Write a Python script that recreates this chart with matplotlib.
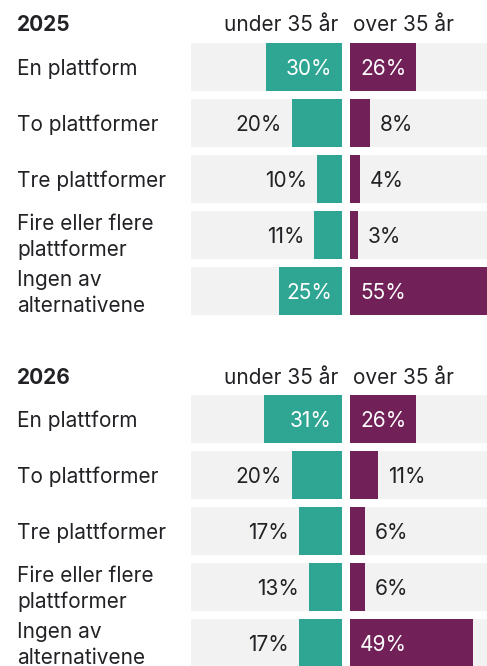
import matplotlib.pyplot as plt
from matplotlib.transforms import blended_transform_factory

# ── Data ──────────────────────────────────────────────────────────────────────
years = ["2025", "2026"]
categories = [
    "En plattform",
    "To plattformer",
    "Tre plattformer",
    "Fire eller flere\nplattformer",
    "Ingen av\nalternativene",
]
under_35 = {"2025": [30, 20, 10, 11, 25], "2026": [31, 20, 17, 13, 17]}
over_35 = {"2025": [26, 8, 4, 3, 55], "2026": [26, 11, 6, 6, 49]}
group_labels = ["under 35 år", "over 35 år"]

# ── Configuration ─────────────────────────────────────────────────────────────
CONFIG = {
    "size_px": (487, 666),
    "dpi": 100,
    "teal": "#2EA693",
    "purple": "#722058",
    "bg": "#F2F2F2",
    "text": "#222226",
    "font": 15,
    "inside_min": 25,
    # pixel layout
    "left_x": (191, 342),
    "right_x": (350, 487),
    "px_per_pct": 2.52,
    "rows_top": {"2025": 43, "2026": 395},
    "header_y": {"2025": 25, "2026": 378},
    "pitch": 56,
    "bar_h": 48,
    "label_shift_px": 2,
}

plt.rcParams.update({"font.family": ["Inter", "DejaVu Sans"]})

W, H = CONFIG["size_px"]
fig = plt.figure(figsize=(W / CONFIG["dpi"], H / CONFIG["dpi"]), dpi=CONFIG["dpi"])
fig.patch.set_facecolor("white")


def px_rect(x0, x1, top, bottom):
    return [x0 / W, 1 - bottom / H, (x1 - x0) / W, (bottom - top) / H]


n = len(categories)
half = CONFIG["bar_h"] / CONFIG["pitch"] / 2
ys = list(range(n))
shift = CONFIG["label_shift_px"] / CONFIG["pitch"]

for year in years:
    top = CONFIG["rows_top"][year]
    bottom = top + (n - 1) * CONFIG["pitch"] + CONFIG["bar_h"]
    lx0, lx1 = CONFIG["left_x"]
    rx0, rx1 = CONFIG["right_x"]
    lmax = (lx1 - lx0) / CONFIG["px_per_pct"]
    rmax = (rx1 - rx0) / CONFIG["px_per_pct"]

    axl = fig.add_axes(px_rect(lx0, lx1, top, bottom))
    axr = fig.add_axes(px_rect(rx0, rx1, top, bottom))

    for ax, vals, lim, color, side in [
        (axl, under_35[year], lmax, CONFIG["teal"], "left"),
        (axr, over_35[year], rmax, CONFIG["purple"], "right"),
    ]:
        ax.barh(ys, [lim] * n, height=2 * half, color=CONFIG["bg"], left=0)
        ax.barh(ys, vals, height=2 * half, color=color)
        ax.set_xlim(0, lim)
        ax.set_ylim(n - 1 + half, -half)
        if side == "left":
            ax.invert_xaxis()
        ax.axis("off")

        pad = 10 / CONFIG["px_per_pct"]
        for y, v in zip(ys, vals):
            inside = v >= CONFIG["inside_min"]
            x = pad if inside else v + pad
            ha = "right" if side == "left" else "left"
            ax.text(x, y, f"{v}%", ha=ha, va="center_baseline", fontsize=CONFIG["font"],
                    color="white" if inside else CONFIG["text"])

    # category labels
    tr = blended_transform_factory(fig.transFigure, axl.transData)
    for y, cat in zip(ys, categories):
        axl.text(17 / W, y + shift, cat, transform=tr, ha="left", va="center",
                 fontsize=CONFIG["font"], color=CONFIG["text"], linespacing=1.32)

    # headers
    hy = 1 - CONFIG["header_y"][year] / H
    fig.text(17 / W, hy, year, ha="left", va="center", fontsize=CONFIG["font"],
             fontweight="bold", color=CONFIG["text"])
    fig.text(338 / W, hy, group_labels[0], ha="right", va="center",
             fontsize=CONFIG["font"], color=CONFIG["text"])
    fig.text(353 / W, hy, group_labels[1], ha="left", va="center",
             fontsize=CONFIG["font"], color=CONFIG["text"])

fig.savefig("out.png", dpi=CONFIG["dpi"], facecolor="white")
